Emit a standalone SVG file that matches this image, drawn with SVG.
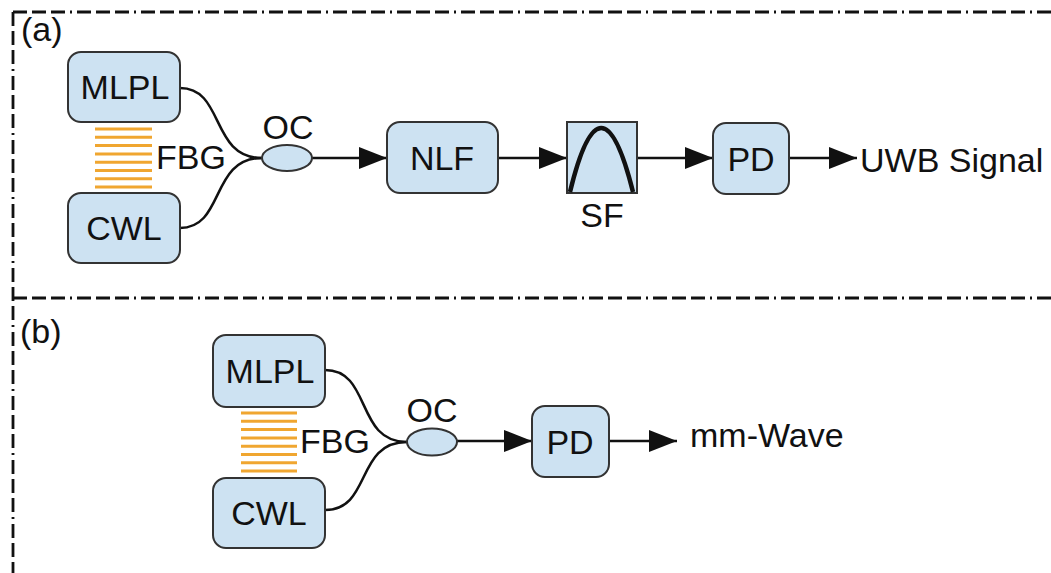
<svg xmlns="http://www.w3.org/2000/svg" width="1051" height="573" viewBox="0 0 1051 573">
  <style>
    .frame { fill: none; stroke: #111; stroke-width: 2.8; stroke-dasharray: 14 5 14 5 14 5 2 5; }
    .box { fill: #cde2f2; stroke: #333; stroke-width: 2; }
    .lbl { font-family: "Liberation Sans", Arial, sans-serif; font-size: 34px; fill: #111; }
    .mid { text-anchor: middle; }
    .wire { fill: none; stroke: #111; stroke-width: 2.5; }
    .arrow { fill: none; stroke: #111; stroke-width: 2.5; marker-end: url(#head); }
    .fbg line { stroke: #f0a630; stroke-width: 3; }
  </style>
  <defs>
    <marker id="head" markerUnits="userSpaceOnUse" markerWidth="30" markerHeight="24" refX="28" refY="11" orient="auto">
      <path d="M0,0 L28,11 L0,22 z" fill="#111"/>
    </marker>
  </defs>

  <rect width="1051" height="573" fill="#fff"/>

  <!-- panel frames -->
  <g id="frames">
    <path class="frame" d="M13,12 H1051"/>
    <path class="frame" d="M13,298 H1051"/>
    <path class="frame" d="M13,12 V573"/>
  </g>

  <text class="lbl" x="21" y="41" font-size="32">(a)</text>
  <text class="lbl" x="20" y="343" font-size="32">(b)</text>

  <!-- connectors -->
  <g id="connectors">
    <path class="wire" d="M180,88 C225,88 210,158 262,158"/>
    <path class="wire" d="M180,228 C225,228 210,158 262,158"/>
    <path class="arrow" d="M312,158 H387"/>
    <path class="arrow" d="M498,158 H567"/>
    <path class="arrow" d="M637,158 H713"/>
    <path class="arrow" d="M789,158 H857"/>

    <path class="wire" d="M325,370 C372,370 355,442 407,442"/>
    <path class="wire" d="M325,510 C372,510 355,442 407,442"/>
    <path class="arrow" d="M457,441 H532"/>
    <path class="arrow" d="M609,441 H677"/>
  </g>

  <!-- panel (a) -->
  <g id="a-mlpl">
    <rect class="box" x="68" y="52" width="112" height="70" rx="13"/>
    <text class="lbl mid" x="125" y="98.5">MLPL</text>
  </g>
  <g id="a-cwl">
    <rect class="box" x="68" y="193" width="112" height="70" rx="13"/>
    <text class="lbl mid" x="124" y="240">CWL</text>
  </g>
  <g id="a-fbg">
    <g class="fbg">
      <line x1="95" y1="129" x2="152" y2="129"/>
      <line x1="95" y1="137.3" x2="152" y2="137.3"/>
      <line x1="95" y1="145.6" x2="152" y2="145.6"/>
      <line x1="95" y1="153.9" x2="152" y2="153.9"/>
      <line x1="95" y1="162.2" x2="152" y2="162.2"/>
      <line x1="95" y1="170.5" x2="152" y2="170.5"/>
      <line x1="95" y1="178.8" x2="152" y2="178.8"/>
      <line x1="95" y1="187.1" x2="152" y2="187.1"/>
    </g>
    <text class="lbl" x="156" y="169">FBG</text>
  </g>
  <g id="a-oc">
    <ellipse class="box" cx="287" cy="158" rx="25" ry="13"/>
    <text class="lbl mid" x="288" y="139" font-size="32">OC</text>
  </g>
  <g id="a-nlf">
    <rect class="box" x="387" y="122" width="111" height="71" rx="13"/>
    <text class="lbl mid" x="442" y="170">NLF</text>
  </g>
  <g id="a-sf">
    <rect class="box" x="567" y="122" width="70" height="71"/>
    <path d="M570,192 Q601,64 633,192" fill="none" stroke="#111" stroke-width="4.5"/>
    <text class="lbl mid" x="602" y="227" font-size="33">SF</text>
  </g>
  <g id="a-pd">
    <rect class="box" x="713" y="123" width="76" height="71" rx="13"/>
    <text class="lbl mid" x="751" y="171">PD</text>
  </g>
  <g id="a-out">
    <text class="lbl" x="860" y="172" font-size="34.5">UWB Signal</text>
  </g>

  <!-- panel (b) -->
  <g id="b-mlpl">
    <rect class="box" x="213" y="335" width="112" height="72" rx="13"/>
    <text class="lbl mid" x="270" y="383">MLPL</text>
  </g>
  <g id="b-cwl">
    <rect class="box" x="213" y="478" width="112" height="70" rx="13"/>
    <text class="lbl mid" x="269" y="525">CWL</text>
  </g>
  <g id="b-fbg">
    <g class="fbg">
      <line x1="241" y1="413" x2="297" y2="413"/>
      <line x1="241" y1="421.3" x2="297" y2="421.3"/>
      <line x1="241" y1="429.6" x2="297" y2="429.6"/>
      <line x1="241" y1="437.9" x2="297" y2="437.9"/>
      <line x1="241" y1="446.2" x2="297" y2="446.2"/>
      <line x1="241" y1="454.5" x2="297" y2="454.5"/>
      <line x1="241" y1="462.8" x2="297" y2="462.8"/>
      <line x1="241" y1="471.1" x2="297" y2="471.1"/>
    </g>
    <text class="lbl" x="300" y="453">FBG</text>
  </g>
  <g id="b-oc">
    <ellipse class="box" cx="432" cy="442" rx="25" ry="13.5"/>
    <text class="lbl mid" x="432" y="422" font-size="32">OC</text>
  </g>
  <g id="b-pd">
    <rect class="box" x="532" y="406" width="77" height="71" rx="13"/>
    <text class="lbl mid" x="570" y="454">PD</text>
  </g>
  <g id="b-out">
    <text class="lbl" x="690" y="447" font-size="34.5">mm-Wave</text>
  </g>
</svg>
